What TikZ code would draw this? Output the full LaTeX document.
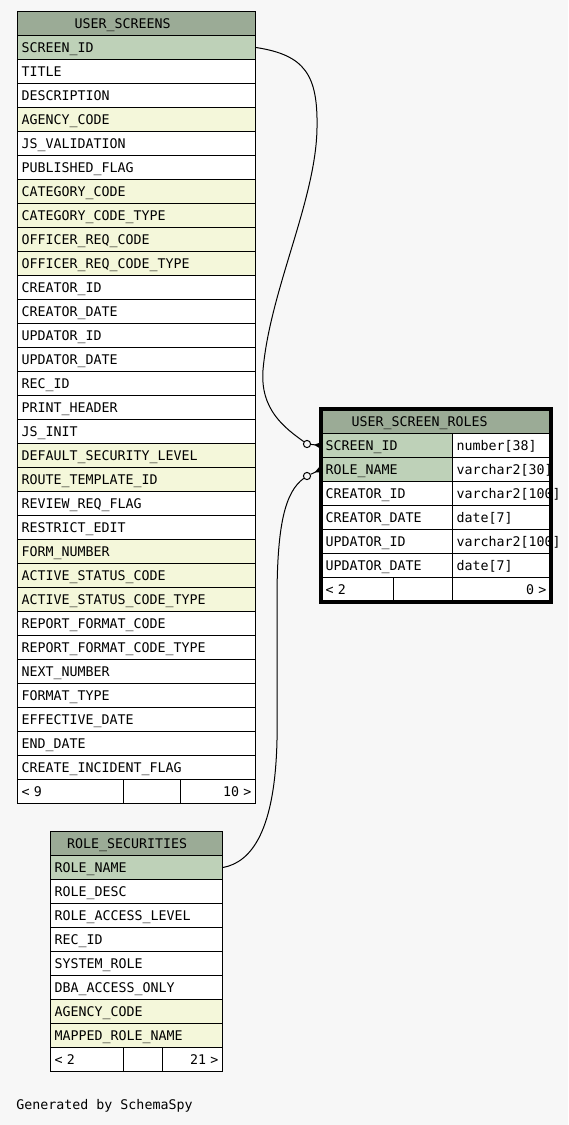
\documentclass[tikz,border=0pt]{standalone}
\usepackage{fontspec}
\setmonofont{DejaVu Sans Mono}
\usetikzlibrary{positioning,arrows.meta}
\definecolor{bgcol}{HTML}{F7F7F7}
\definecolor{hdr}{HTML}{9BAB96}
\definecolor{colkey}{HTML}{BED1B8}
\definecolor{colfk}{HTML}{F4F7DA}
\definecolor{colw}{HTML}{FFFFFF}

\begin{document}
\begin{tikzpicture}[x=0.5pt,y=-0.5pt]
    \tikzset{
        cell/.style={draw, line width=0.5pt, anchor=north west, minimum height=12pt,
            inner xsep=2pt, inner ysep=0pt, align=left, text height=4.8pt, text depth=0pt,
            font=\ttfamily\fontsize{6.65}{8}\selectfont},
        head/.style={cell, fill=hdr, inner xsep=#1},
        crow/.style={-{Triangle[reversed,length=3.5pt,width=3.2pt]}, line width=0.5pt},
        odot/.style={circle, draw, line width=0.5pt, fill=bgcol, inner sep=0pt, minimum size=3.6pt},
    }
    \fill [bgcol] (0,0) rectangle (568,1125);

    % USER_SCREENS
    \node [head=28.5pt, text width=62pt] (us0) at (17,11) {USER\_SCREENS};
    \foreach \name/\col [count=\i] in {SCREEN\_ID/colkey, TITLE/colw, DESCRIPTION/colw,
        AGENCY\_CODE/colfk, JS\_VALIDATION/colw, PUBLISHED\_FLAG/colw, CATEGORY\_CODE/colfk,
        CATEGORY\_CODE\_TYPE/colfk, OFFICER\_REQ\_CODE/colfk, OFFICER\_REQ\_CODE\_TYPE/colfk,
        CREATOR\_ID/colw, CREATOR\_DATE/colw, UPDATOR\_ID/colw, UPDATOR\_DATE/colw,
        REC\_ID/colw, PRINT\_HEADER/colw, JS\_INIT/colw, DEFAULT\_SECURITY\_LEVEL/colfk,
        ROUTE\_TEMPLATE\_ID/colfk, REVIEW\_REQ\_FLAG/colw, RESTRICT\_EDIT/colw,
        FORM\_NUMBER/colfk, ACTIVE\_STATUS\_CODE/colfk, ACTIVE\_STATUS\_CODE\_TYPE/colfk,
        REPORT\_FORMAT\_CODE/colw, REPORT\_FORMAT\_CODE\_TYPE/colw, NEXT\_NUMBER/colw,
        FORMAT\_TYPE/colw, EFFECTIVE\_DATE/colw, END\_DATE/colw, CREATE\_INCIDENT\_FLAG/colw}
        \node [cell, fill=\col, text width=115pt] (us\i) at (17,{35+24*(\i-1)}) {\name};
    \node [cell, fill=colw, text width=49pt] (usf1) at (17,779) {< 9};
    \node [cell, fill=colw, text width=24.5pt] (usf2) at (123,779) {};
    \node [cell, fill=colw, text width=33.5pt, align=right] (usf3) at (180,779) {10 >};

    % ROLE_SECURITIES
    \node [head=8.25pt, text width=69.5pt] (rs0) at (50,831) {ROLE\_SECURITIES};
    \foreach \name/\col [count=\i] in {ROLE\_NAME/colkey, ROLE\_DESC/colw,
        ROLE\_ACCESS\_LEVEL/colw, REC\_ID/colw, SYSTEM\_ROLE/colw, DBA\_ACCESS\_ONLY/colw,
        AGENCY\_CODE/colfk, MAPPED\_ROLE\_NAME/colfk}
        \node [cell, fill=\col, text width=82pt] (rs\i) at (50,{855+24*(\i-1)}) {\name};
    \node [cell, fill=colw, text width=32.5pt] (rsf1) at (50,1047) {< 2};
    \node [cell, fill=colw, text width=15.5pt] (rsf2) at (123,1047) {};
    \node [cell, fill=colw, text width=26pt, align=right] (rsf3) at (162,1047) {21 >};

    % USER_SCREEN_ROLES
    \node [head=15pt, text width=84.5pt] (sr0) at (321,409) {USER\_SCREEN\_ROLES};
    \foreach \name/\col/\type [count=\i] in {SCREEN\_ID/colkey/number[38],
        ROLE\_NAME/colkey/varchar2[30], CREATOR\_ID/colw/varchar2[100],
        CREATOR\_DATE/colw/date[7], UPDATOR\_ID/colw/varchar2[100], UPDATOR\_DATE/colw/date[7]}{
        \node [cell, fill=\col, text width=61.5pt] (sr\i) at (321,{433+24*(\i-1)}) {\name};
        \node [cell, fill=colw, text width=45pt] (st\i) at (452,{433+24*(\i-1)}) {\mbox{\type}};
    }
    \node [cell, fill=colw, text width=32pt] (srf1) at (321,577) {< 2};
    \node [cell, fill=colw, text width=25.5pt] (srf2) at (393,577) {};
    \node [cell, fill=colw, text width=45pt, align=right] (srf3) at (452,577) {0 >};
    \draw [line width=2pt] (sr0.north west) rectangle (srf3.south east);

    % relations
    \node [odot] (o1) at (307,444) {};
    \node [odot] (o2) at (307,476) {};
    \draw [line width=0.5pt] (us1.east) .. controls (305,55) and (318,75) .. (317,128)
        .. controls (316,200) and (270,290) .. (263,370)
        .. controls (260,410) and (285,428) .. (o1);
    \draw [line width=0.5pt] (rs1.east) .. controls (252,862) and (275,830) .. (277,740)
        -- (277,600) .. controls (277,525) and (285,492) .. (o2);
    \draw [crow] (o1) -- (sr1.west);
    \draw [crow] (o2) -- (sr2.west);

    \node [anchor=west, inner sep=0pt, font=\ttfamily\fontsize{6.65}{8}\selectfont] (gen) at (16,1106) {Generated by SchemaSpy};
\end{tikzpicture}
\end{document}
